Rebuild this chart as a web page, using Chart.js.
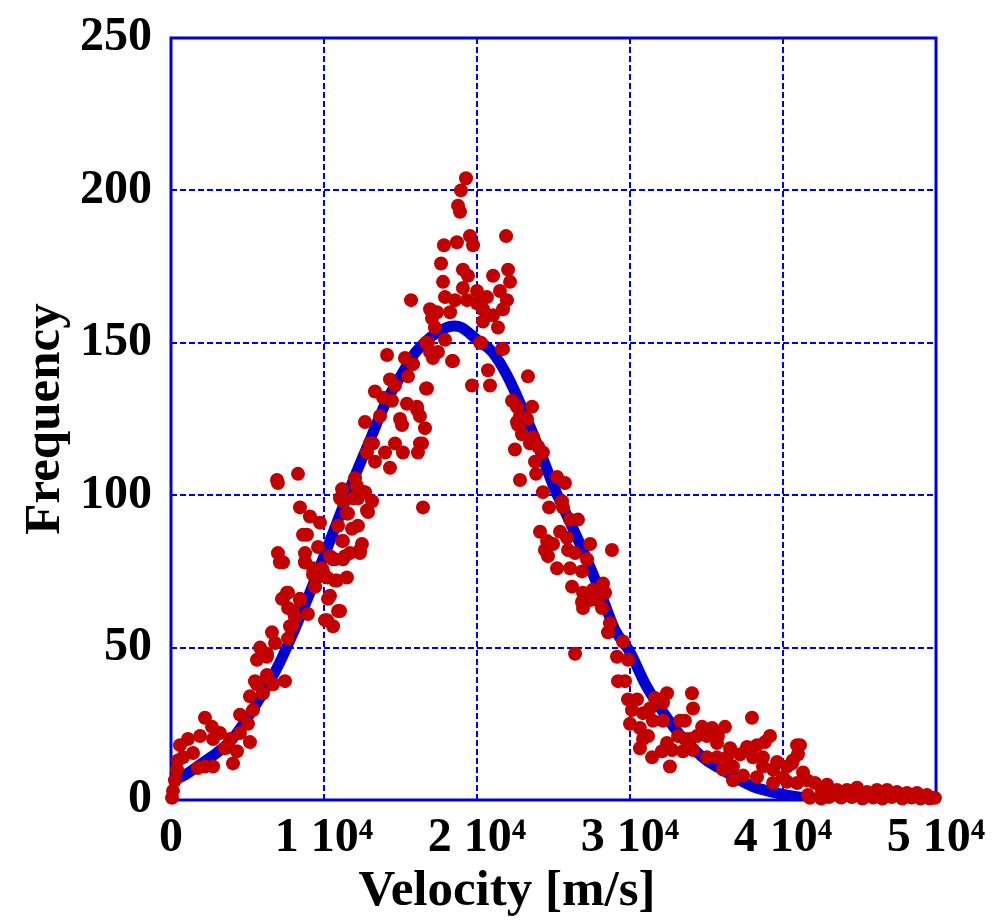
<!DOCTYPE html>
<html>
<head>
<meta charset="utf-8">
<style>
  html, body { margin: 0; padding: 0; background: #fff; }
  #wrap { width: 992px; height: 920px; }
</style>
<script src="https://cdn.jsdelivr.net/npm/chart.js@4.4.1/dist/chart.umd.min.js"></script>
</head>
<body>
<div id="wrap"><canvas id="c" width="992" height="920"></canvas></div>
<script>
// Fitted distribution curve: velocity [m/s] and frequency
const curveVelocity = [0, 1000, 2000, 3000, 4000, 5000, 6000, 7000, 8000, 9000,
  10000, 11000, 12000, 13000, 14000, 15000, 16000, 17000, 18000, 18500, 19000, 20000,
  21000, 22000, 23000, 24000, 25000, 26000, 27000, 28000, 29000, 30000,
  31000, 32000, 33000, 34000, 35000, 36000, 37000, 38000, 39000, 40000,
  41000, 42000, 43000, 44000, 45000, 46000];
const curveFrequency = [6, 8.5, 12, 15.5, 20, 27, 35, 44, 55, 67,
  80, 93, 106, 118, 130, 139, 147, 152, 155, 155.5, 155, 151,
  147, 139, 128, 116, 103, 92, 81, 69, 56, 48.5,
  38, 30, 23, 17.5, 13, 10, 7, 4.5, 3, 1.8,
  1, 0.5, 0.2, 0.1, 0, 0];

// Measured histogram samples: velocity [m/s] and frequency
const sampleVelocity = [
  65, 130, 260, 390, 460, 590, 1110, 780, 1440, 1760, 2220, 2750, 1900, 2220, 2680, 2750,
  3200, 3530, 3860, 4050, 4310, 4510, 4510, 5030, 5160, 5160, 5360, 5620, 6010, 6270,
  6670, 7450, 5820, 6270, 6600, 6800, 7650, 7910, 7970, 7320, 7580, 8430, 8950, 7320,
  8760, 9280, 9410, 5620, 6270, 5490,
  6930, 6990, 8300, 8430, 9080, 9740, 8630, 8890, 6990, 7120, 8760, 8760, 9610, 9280,
  9870, 9540, 10200, 9410, 10850, 11500, 10390, 10720, 11180, 11500, 10920, 11830, 12220,
  12480, 12350, 11370, 11700, 7650, 7250, 7650, 8430, 8100, 10390, 10260, 10920, 10070,
  10590, 7780, 6270, 11050, 11240, 12030, 12160, 12220, 12680, 13140, 12810, 16470,
  13200, 12810, 13330, 13990, 14310, 14640, 15160, 16140, 16410,
  14120, 15290, 15820, 15490, 14310, 14640, 13330, 13860, 14440, 16730, 15420, 16080,
  16270, 16600, 13660, 14970, 15100, 12680, 16270, 11180, 11900, 12550, 12880, 11570,
  11240, 12350, 11240, 10590, 9930, 10720, 11050, 10200, 16800, 17120, 17450,
  19280, 18950, 18760, 18890, 19540, 19740, 21900, 17840, 18690, 17650, 19080, 19410,
  22030, 21050, 22160, 17780, 19080, 20000, 20650, 21500, 21960, 17910, 18560, 19350,
  15690, 16930, 17390, 18240, 20000, 20390, 21050, 21700, 20390, 21370, 17250, 17060,
  16670, 17910, 20260, 21700, 16930, 18370, 20720, 23330, 19670, 20850, 16670, 22290,
  22610, 23600, 16080, 22610, 23270, 22940, 23660, 23460, 23990, 22480, 24310, 13010,
  20200, 21630, 18430, 22810, 22680, 23790, 23860, 22810, 25230, 25750, 24310, 25560,
  25620, 24710, 26080, 26600, 24120, 25430, 25880, 24580, 24970, 24440, 24640, 25950,
  26410, 27390, 28820, 27190, 26080, 25230, 26860, 26210, 26930, 27580, 28240, 28370,
  26860, 27390, 27840, 26930, 28170, 28690,
  28560, 29540, 26410, 29150, 29870, 29220, 29670, 29870, 30460, 31630, 32420, 32160,
  34050, 34120, 30130, 30850, 31310, 30000, 31500, 32160, 30650, 33270, 33590, 34710,
  35360, 36210, 31180, 30850, 30650, 32420, 33140, 33590, 34380, 35030, 35750, 35690,
  36540, 37650, 38300, 38820, 39150, 37970, 40920, 32090, 32750, 33460, 31440, 32610,
  34120, 35030, 35690, 36340, 37190, 38040, 36080, 36730, 36730, 37390, 38300, 38690,
  39350, 39350, 40000, 40260, 40650, 40920, 33920,
  41110, 40980, 40590, 39610, 38690, 41310, 41570, 40260, 42090, 41630, 41760, 42880,
  42550, 43530, 44180, 44840, 45490, 46140, 46800, 47450, 48100, 48760, 49410, 49930,
  42500, 43000, 43800, 44500, 45200, 45900, 46500, 47100, 47800, 48400, 49000, 49600];
const sampleFrequency = [
  0.7, 3, 6.5, 10, 13, 18, 20, 14, 15.4, 10.5, 11, 11, 21, 27, 24, 20,
  22, 17, 20, 12, 16, 22, 28, 25, 19, 34, 29.5, 38, 35, 40,
  38, 39, 50, 47, 55, 51.5, 53, 57, 62, 66, 68, 66, 61, 78,
  78, 74, 70, 46, 41, 39,
  105, 104, 107, 96, 93, 91, 87, 87, 81, 78, 81, 78, 83, 76,
  76, 73, 73, 70, 72, 73, 80, 79, 85, 94, 90, 89, 90,
  84, 82, 80, 81, 68, 66, 63, 65.6, 60, 67, 66, 62, 59,
  57, 57, 48, 99, 98, 105.6, 103, 99, 101, 98, 95, 96,
  117, 114, 111, 114, 109, 117, 114, 114, 117,
  146, 145, 143, 139, 138, 136, 134, 132, 131, 135, 130, 128,
  126, 122, 126, 125, 123, 124, 117, 102, 99, 101, 94.5, 94,
  85, 81, 79, 79, 75, 72, 62, 59, 150, 145, 147,
  204, 200, 195, 193, 185, 182, 185, 182, 183, 176, 174, 172,
  174, 172, 170, 170, 168, 167, 165, 167, 164, 165, 164, 164,
  164, 161, 160, 160, 163, 161, 159, 161, 157, 155, 155, 158,
  150, 151, 150, 148, 147, 144, 141, 139, 136, 136, 135, 131,
  129, 129, 129, 124, 125, 120, 119, 117, 116, 115, 114, 117,
  150, 148, 144, 126, 123, 111, 107, 105, 106, 104, 101, 98,
  96, 96, 92, 92, 88, 88, 86, 85, 84, 82, 80, 82,
  81, 84, 82, 79, 76, 76, 75, 70, 68, 69, 71, 68,
  65, 65.6, 65.6, 63, 63, 58,
  55, 52, 48, 47, 46, 39, 39, 33, 33, 33.5, 35, 32,
  35, 30, 29.5, 28.5, 30, 25, 26, 26, 23.6, 26, 26, 24,
  23.6, 24, 21, 20, 17, 18.7, 21, 20, 21, 21, 21, 18.7,
  17, 17.4, 18, 19, 21, 27, 18, 16, 16.4, 16, 14, 11,
  16.4, 14, 14, 14, 15, 14, 10, 11, 6.5, 8, 7.5, 11,
  10, 5.6, 7.5, 11, 13, 5.6, 20,
  18, 15, 12, 12.5, 14, 9, 6.5, 6, 5.6, 1.6, 0.7, 5,
  2.6, 3.3, 3.3, 4, 2.6, 3.3, 3.3, 2.6, 2.3, 2.3, 1.6, 0.7,
  0.5, 1, 0.8, 1, 0.5, 0.8, 0.5, 1, 0.5, 0.8, 0.5, 0.5];

// Axis ranges and tick spacing
const velocityRange = [0, 50000];
const velocityStep = 10000;
const frequencyRange = [0, 250];
const frequencyStep = 50;

const curvePoints = curveVelocity.map((v, i) => ({ x: v, y: curveFrequency[i] }));
const samplePoints = sampleVelocity.map((v, i) => ({ x: v, y: sampleFrequency[i] }));

const FRAME_BLUE = '#0000d8';
const GRID_BLUE = '#0000ee';
const FAMILY = '"Liberation Serif", "Times New Roman", serif';
const FONT = { family: FAMILY, size: 48, weight: 'bold' };
const TITLE_FONT = { family: FAMILY, size: 51, weight: 'bold' };

// Dashed grid at every tick plus a solid frame, both drawn under the data
const framePlugin = {
  id: 'frame',
  beforeDatasetsDraw(chart) {
    const { ctx, chartArea: a, scales } = chart;
    ctx.save();
    ctx.strokeStyle = GRID_BLUE;
    ctx.lineWidth = 2;
    ctx.setLineDash([6, 3]);
    scales.x.ticks.forEach((t) => {
      const px = Math.round(scales.x.getPixelForValue(t.value));
      ctx.beginPath();
      ctx.moveTo(px, a.top);
      ctx.lineTo(px, a.bottom);
      ctx.stroke();
    });
    scales.y.ticks.forEach((t) => {
      const py = Math.round(scales.y.getPixelForValue(t.value));
      ctx.beginPath();
      ctx.moveTo(a.left, py);
      ctx.lineTo(a.right, py);
      ctx.stroke();
    });
    ctx.strokeStyle = FRAME_BLUE;
    ctx.lineWidth = 3;
    ctx.setLineDash([]);
    ctx.strokeRect(a.left, a.top, a.right - a.left, a.bottom - a.top);
    ctx.restore();
  }
};

// Horizontal axis caption, set a little left of the plot centre
const xCaptionPlugin = {
  id: 'xCaption',
  afterDraw(chart) {
    const { ctx, chartArea: a } = chart;
    ctx.save();
    ctx.fillStyle = '#000';
    ctx.font = `bold ${TITLE_FONT.size}px ${FAMILY}`;
    ctx.textAlign = 'center';
    ctx.textBaseline = 'alphabetic';
    ctx.fillText('Velocity [m/s]', a.left + 336, a.bottom + 105);
    ctx.restore();
  }
};

new Chart(document.getElementById('c'), {
  type: 'scatter',
  data: {
    datasets: [
      {
        label: 'Samples',
        data: samplePoints,
        backgroundColor: '#c20000',
        borderColor: '#c20000',
        borderWidth: 0,
        pointRadius: 7,
        pointHoverRadius: 7,
        clip: false,
        order: 1
      },
      {
        label: 'Fit',
        type: 'line',
        data: curvePoints,
        borderColor: '#0000d0',
        borderWidth: 11,
        pointRadius: 0,
        fill: false,
        cubicInterpolationMode: 'monotone',
        borderCapStyle: 'butt',
        order: 2
      }
    ]
  },
  options: {
    responsive: false,
    animation: false,
    devicePixelRatio: 1,
    layout: { padding: { top: 38, right: 56, left: 0, bottom: 0 } },
    plugins: {
      legend: { display: false },
      tooltip: { enabled: false }
    },
    scales: {
      x: {
        type: 'linear',
        min: velocityRange[0],
        max: velocityRange[1],
        afterFit(scale) {
          scale.height = 120;
          scale.paddingLeft = 0;
          scale.paddingRight = 0;
        },
        ticks: {
          stepSize: velocityStep,
          color: '#000',
          font: FONT,
          padding: 10,
          maxRotation: 0,
          callback: (v) => (v === 0 ? '0' : (v / 10000) + ' 10\u2074')
        },
        grid: { display: false, drawTicks: false, tickLength: 0 },
        border: { display: false },
        title: { display: false }
      },
      y: {
        type: 'linear',
        min: frequencyRange[0],
        max: frequencyRange[1],
        afterFit(scale) {
          scale.width = 171;
          scale.paddingTop = 0;
          scale.paddingBottom = 0;
        },
        ticks: {
          stepSize: frequencyStep,
          color: '#000',
          font: FONT,
          padding: 19
        },
        grid: { display: false, drawTicks: false, tickLength: 0 },
        border: { display: false },
        title: {
          display: true,
          text: 'Frequency',
          color: '#000',
          font: TITLE_FONT,
          padding: { top: 15, bottom: 0 }
        }
      }
    }
  },
  plugins: [framePlugin, xCaptionPlugin]
});
</script>
</body>
</html>
